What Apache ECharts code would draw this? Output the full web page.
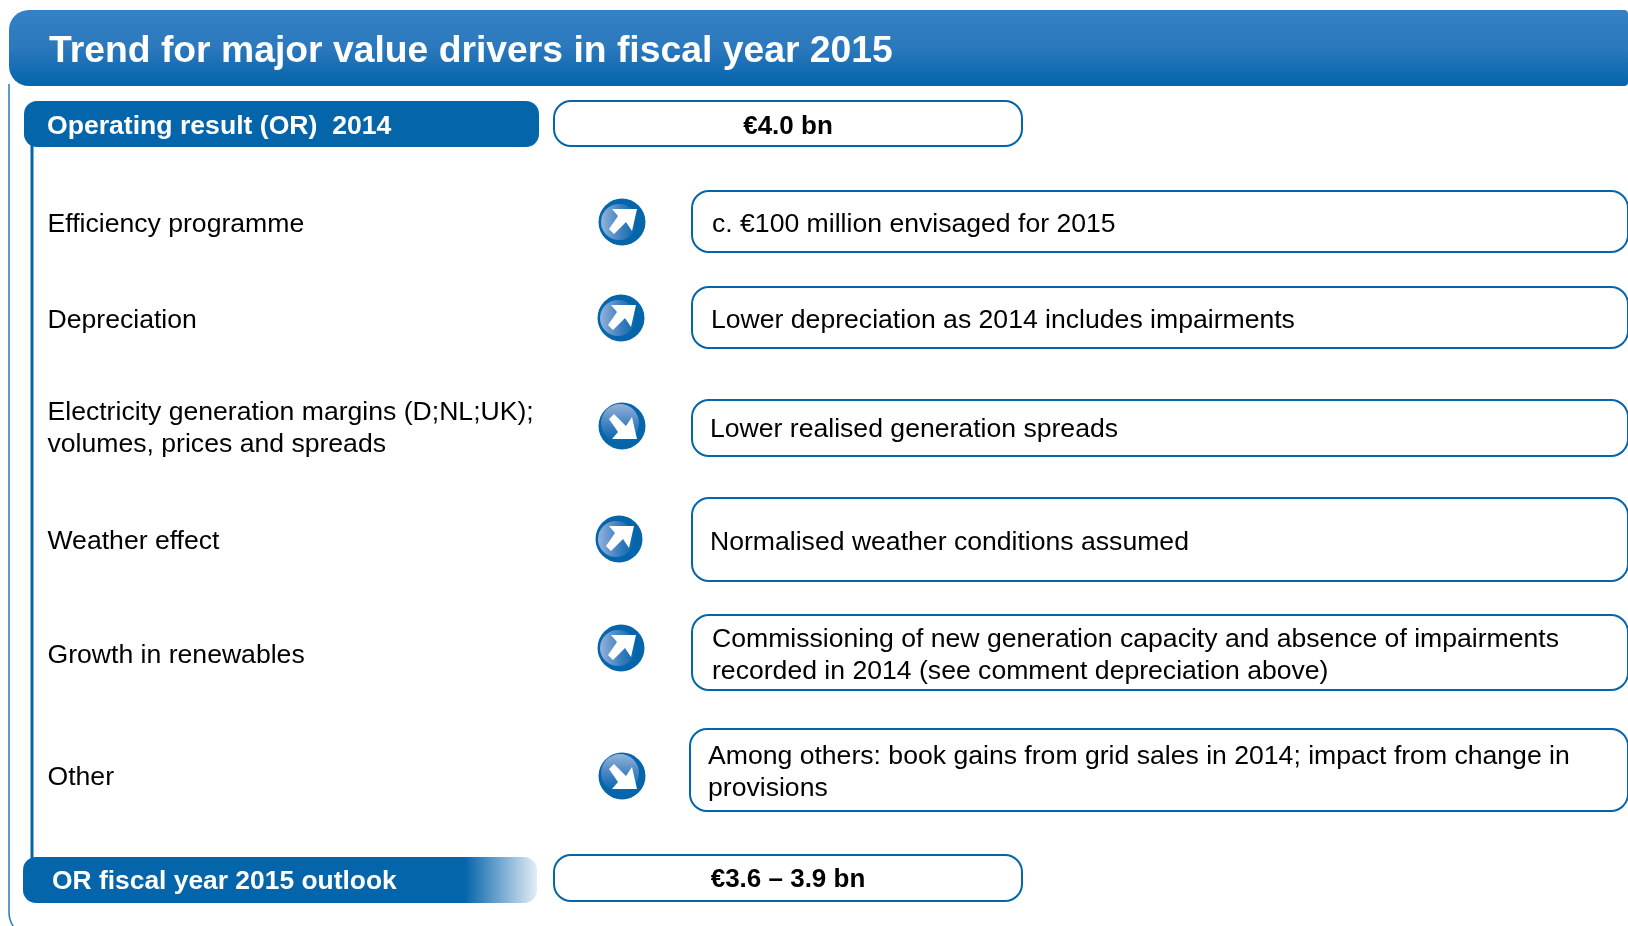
<!DOCTYPE html>
<html>
<head>
<meta charset="utf-8">
<title>Trend for major value drivers</title>
<style>
  html, body { margin: 0; padding: 0; background: #fff; }
  #chart { width: 1628px; height: 926px; }
</style>
<script src="https://cdn.jsdelivr.net/npm/echarts@6/dist/echarts.min.js"></script>
</head>
<body>
<div id="chart"></div>
<script>
const titleText = 'Trend for major value drivers in fiscal year 2015'
const startLabel = 'Operating result (OR)  2014'
const startValue = '€4.0 bn'
const endLabel = 'OR fiscal year 2015 outlook'
const endValue = '€3.6 – 3.9 bn'

const drivers = [
  'Efficiency programme',
  'Depreciation',
  'Electricity generation margins (D;NL;UK);\nvolumes, prices and spreads',
  'Weather effect',
  'Growth in renewables',
  'Other',
]
const trends = ['up', 'up', 'down', 'up', 'up', 'down']
const comments = [
  'c. €100 million envisaged for 2015',
  'Lower depreciation as 2014 includes impairments',
  'Lower realised generation spreads',
  'Normalised weather conditions assumed',
  'Commissioning of new generation capacity and absence of impairments\nrecorded in 2014 (see comment depreciation above)',
  'Among others: book gains from grid sales in 2014; impact from change in\nprovisions',
]

// layout of the slide, one entry per row
const labelY = [225, 321, 429, 542, 656, 778]
const iconX = [622, 621, 622, 619, 621, 622]
const iconY = [222, 318, 426, 539, 648, 776]
const boxX = [692, 692, 692, 692, 692, 690]
const boxTop = [191, 287, 400, 498, 615, 729]
const boxBottom = [252, 348, 456, 581, 690, 811]
const commentX = [712, 711, 710, 710, 712, 708]
const commentY = [225, 321, 430, 543, 656, 773]

const BLUE = '#0465aa'
const FONT = '"Liberation Sans", Arial, sans-serif'

const label = (x, y, text, opts = {}) => ({
  type: 'text',
  x,
  y,
  style: {
    text,
    fill: opts.fill || '#000',
    fontFamily: FONT,
    fontSize: opts.size || 26.6,
    fontWeight: opts.bold ? 'bold' : 'normal',
    lineHeight: 32,
    align: opts.align || 'left',
    verticalAlign: 'middle',
  },
})

const outlineBox = (x, y, width, height, r) => ({
  type: 'rect',
  shape: { x, y, width, height, r },
  style: { fill: '#fff', stroke: BLUE, lineWidth: 2 },
})

const trendIcon = (cx, cy, dir) => {
  const up = dir === 'up'
  const flip = up ? 1 : -1
  const arrow = [[15, -13], [-10, -13], [-4, -6], [-13, 7], [-8, 12], [4, 0], [10, 9]]
  return {
    type: 'group',
    x: cx,
    y: cy,
    children: [
      { type: 'circle', shape: { r: 23.5 }, style: { fill: BLUE } },
      {
        type: 'circle',
        shape: { cx: up ? -3 : -2, cy: up ? 0 : -3, r: up ? 18 : 19 },
        style: {
          fill: {
            type: 'linear',
            x: 0,
            y: 0,
            x2: up ? 1 : 0,
            y2: up ? 0 : 1,
            colorStops: [
              { offset: 0, color: '#93b3da' },
              { offset: 0.55, color: '#3f80c0' },
              { offset: 1, color: BLUE },
            ],
          },
        },
      },
      {
        type: 'polygon',
        shape: { points: arrow.map(p => [p[0], p[1] * flip]) },
        style: { fill: '#fff' },
      },
    ],
  }
}

const elements = [
  // thin frame down the left side, curves off the bottom of the page
  {
    type: 'line',
    shape: { x1: 9, y1: 84, x2: 9, y2: 912 },
    style: { stroke: '#2a7ab8', lineWidth: 1.5 },
  },
  {
    type: 'arc',
    shape: { cx: 35, cy: 912, r: 26, startAngle: Math.PI / 2, endAngle: Math.PI },
    style: { fill: null, stroke: '#2a7ab8', lineWidth: 1.5 },
  },
  {
    type: 'rect',
    shape: { x: 9, y: 10, width: 1619, height: 76, r: [20, 4, 4, 20] },
    style: {
      fill: {
        type: 'linear',
        x: 0,
        y: 0,
        x2: 0,
        y2: 1,
        colorStops: [
          { offset: 0, color: '#3581c5' },
          { offset: 0.5, color: '#2b78bd' },
          { offset: 1, color: BLUE },
        ],
      },
    },
  },
  label(49, 52, titleText, { fill: '#fff', size: 37.3, bold: true }),
  // vertical rule between the two bars
  {
    type: 'line',
    shape: { x1: 32, y1: 140, x2: 32, y2: 865 },
    style: { stroke: BLUE, lineWidth: 3 },
  },
  { type: 'rect', shape: { x: 24, y: 101, width: 515, height: 46, r: 13 }, style: { fill: BLUE } },
  label(47, 127, startLabel, { fill: '#fff', size: 26.6, bold: true }),
  outlineBox(554, 101, 468, 45, 17),
  label(788, 127, startValue, { size: 26, bold: true, align: 'center' }),
  {
    type: 'rect',
    shape: { x: 23, y: 857, width: 514, height: 46, r: 13 },
    style: {
      fill: {
        type: 'linear',
        x: 0,
        y: 0,
        x2: 1,
        y2: 0,
        colorStops: [
          { offset: 0, color: BLUE },
          { offset: 0.86, color: BLUE },
          { offset: 1, color: '#e4edf6' },
        ],
      },
    },
  },
  label(52, 882, endLabel, { fill: '#fff', size: 26.4, bold: true }),
  outlineBox(554, 855, 468, 46, 17),
  label(788, 880, endValue, { size: 26, bold: true, align: 'center' }),
]

drivers.forEach((name, i) => {
  elements.push(label(47.5, labelY[i], name))
  elements.push(trendIcon(iconX[i], iconY[i], trends[i]))
  elements.push(outlineBox(boxX[i], boxTop[i], 1628 - boxX[i], boxBottom[i] - boxTop[i], 17))
  elements.push(label(commentX[i], commentY[i], comments[i]))
})

const chart = echarts.init(document.getElementById('chart'))
chart.setOption({
  backgroundColor: '#fff',
  animation: false,
  graphic: { elements },
})
</script>
</body>
</html>
